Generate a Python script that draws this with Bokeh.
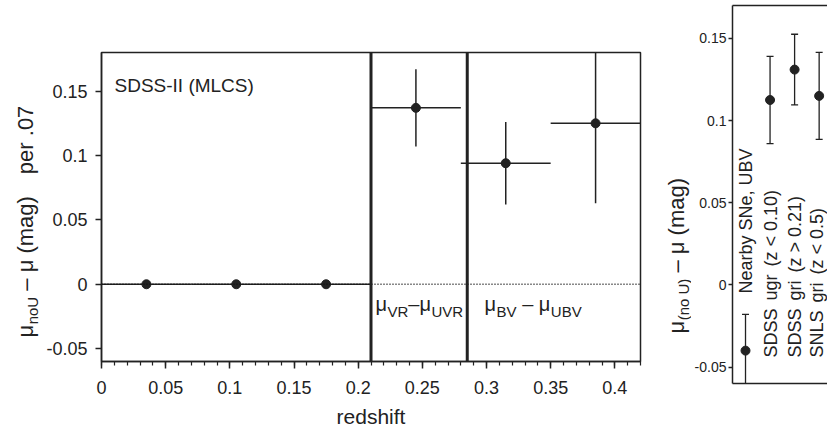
import math
from bokeh.plotting import figure
from bokeh.models import ColumnDataSource, FixedTicker, Span, LinearAxis, Range1d
from bokeh.layouts import row
from bokeh.embed import file_html
from bokeh.resources import INLINE
from bokeh.core.properties import value

# ---------------- data ----------------
# left panel: SDSS-II (MLCS) redshift bins
z_bin = [0.035, 0.105, 0.175, 0.245, 0.315, 0.385]
z_halfwidth = [0.035, 0.035, 0.035, 0.035, 0.035, 0.035]
dmu_left = [0.0, 0.0, 0.0, 0.137, 0.094, 0.125]
dmu_left_err = [0.0, 0.0, 0.0, 0.030, 0.032, 0.062]
bin_boundaries = [0.21, 0.285]
x_ticks = [0.0, 0.05, 0.1, 0.15, 0.2, 0.25, 0.3, 0.35, 0.4]
x_tick_labels = ["0", "0.05", "0.1", "0.15", "0.2", "0.25", "0.3", "0.35", "0.4"]
y_ticks = [-0.05, 0.0, 0.05, 0.1, 0.15]
y_tick_labels = ["-0.05", "0", "0.05", "0.1", "0.15"]

# right panel: samples
SP = "\u2006 "  # slightly wider gap between words
samples = ["Nearby SNe, UBV",
           f"SDSS{SP}ugr{SP}(z < 0.10)",
           f"SDSS{SP}gri{SP}(z > 0.21)",
           f"SNLS{SP}gri{SP}(z < 0.5)"]
sample_x = [1, 2, 3, 4]
dmu_right = [-0.040, 0.1125, 0.131, 0.115]
dmu_right_err = [0.022, 0.0265, 0.0215, 0.0265]

# ---------------- style ----------------
FONT = "Liberation Sans"
INK = "#222222"
MU = "\u03bc"
MID = 0.35  # distance (em) from alphabetic baseline up to the "middle" anchor

# Arial / Liberation Sans advance widths (per 1000 em)
W = {" ": 278, "(": 333, ")": 333, "\u2013": 556, MU: 576, "n": 556, "o": 556,
     "U": 722, "V": 667, "R": 722, "B": 667, "m": 833, "a": 556, "g": 556, "p": 556,
     "e": 556, "r": 333, ".": 278, "0": 556, "7": 556}


def tw(s, size):
    return sum(W.get(c, 556) for c in s) / 1000.0 * size


def compose(fig, x0, y0, parts, kx, ky, vertical=False):
    """Text pieces on a common baseline (x0, y0 in data units).
    parts: (text, size, subscript shift px, gap px before); kx, ky = px per data unit"""
    adv = 0.0
    for text, size, shift, gap in parts:
        adv += gap
        mid = MID * size
        if vertical:
            x = x0 + (shift - mid) / kx
            y = y0 + adv / ky
            ang = math.pi / 2
        else:
            x = x0 + adv / kx
            y = y0 - (shift - mid) / ky
            ang = 0
        fig.text(x=[x], y=[y], text=[text], angle=ang, text_align="left",
                 text_baseline="middle", text_font=value(FONT),
                 text_font_size=value(f"{size}px"), text_color=INK)
        adv += tw(text, size)


def strip(width):
    """blank figure whose data units are screen pixels (y downwards), for axis titles"""
    s = figure(width=width, height=430, x_range=Range1d(0, width), y_range=Range1d(430, 0),
               output_backend="svg", toolbar_location=None, x_axis_type=None, y_axis_type=None,
               min_border_left=0, min_border_right=0, min_border_top=0, min_border_bottom=0,
               frame_align=False)
    s.grid.visible = False
    s.outline_line_color = None
    s.background_fill_color = "white"
    s.border_fill_color = "white"
    return s


def style_yaxis(ax, size, tick_out, standoff):
    ax.ticker = FixedTicker(ticks=y_ticks, minor_ticks=[])
    ax.major_label_overrides = dict(zip(y_ticks, y_tick_labels))
    ax.major_label_text_font = FONT
    ax.major_label_text_font_size = size
    ax.major_label_text_color = INK
    ax.major_tick_out = tick_out
    ax.major_tick_in = 0
    ax.major_tick_line_width = 1.3
    ax.major_tick_line_color = INK
    ax.axis_line_color = INK
    ax.axis_line_width = 1.5
    ax.major_label_standoff = standoff


# ---------------- left axis title strip ----------------
s1 = strip(43)
compose(s1, 32.5, 337,
        [(MU, 22, 0, 0), ("noU", 15, 5, 0.5), ("\u2013 " + MU + " (mag)", 22, 0, 6.1),
         ("per .07", 22, 0, 22)],
        1, -1, vertical=True)

# ---------------- left panel ----------------
XL = (0.0, 0.42)
YL = (-0.06, 0.18)
p1 = figure(width=622, height=430, x_range=Range1d(*XL), y_range=Range1d(*YL),
            output_backend="svg", toolbar_location=None, frame_align=False,
            min_border_left=58, min_border_right=25, min_border_top=52, min_border_bottom=68)
p1.grid.visible = False
p1.outline_line_color = INK
p1.outline_line_width = 1.5
p1.background_fill_color = "white"
p1.border_fill_color = "white"

kx1 = 539 / (XL[1] - XL[0])
ky1 = 310 / (YL[1] - YL[0])

xa = p1.xaxis[0]
xa.ticker = FixedTicker(ticks=x_ticks, minor_ticks=[i / 100 for i in range(0, 43)])
xa.major_label_overrides = dict(zip(x_ticks, x_tick_labels))
xa.major_label_text_font = FONT
xa.major_label_text_font_size = "18px"
xa.major_label_text_color = INK
xa.major_tick_out = 7
xa.major_tick_in = 0
xa.minor_tick_out = 4
xa.minor_tick_in = 0
xa.major_tick_line_width = 1.5
xa.minor_tick_line_width = 1.2
xa.major_tick_line_color = INK
xa.minor_tick_line_color = INK
xa.axis_line_color = INK
xa.axis_line_width = 1.5
xa.major_label_standoff = 12
xa.axis_label = "redshift"
xa.axis_label_text_font = FONT
xa.axis_label_text_font_size = "21px"
xa.axis_label_text_font_style = "normal"
xa.axis_label_text_color = INK
xa.axis_label_standoff = 8

style_yaxis(p1.yaxis[0], "18px", 6, 8)

src1 = ColumnDataSource(dict(
    z=z_bin,
    z0=[z - h for z, h in zip(z_bin, z_halfwidth)],
    z1=[z + h for z, h in zip(z_bin, z_halfwidth)],
    y=dmu_left,
    y0=[y - e for y, e in zip(dmu_left, dmu_left_err)],
    y1=[y + e for y, e in zip(dmu_left, dmu_left_err)],
))

p1.add_layout(Span(location=0, dimension="width", line_color="#111111", line_width=1.3, line_dash="1 2"))
p1.segment(x0="z0", y0="y", x1="z1", y1="y", source=src1, line_color=INK, line_width=1.5)
p1.segment(x0="z", y0="y0", x1="z", y1="y1", source=src1, line_color=INK, line_width=1.5)
p1.scatter("z", "y", source=src1, size=9, color=INK)
for b in bin_boundaries:
    p1.add_layout(Span(location=b, dimension="height", line_color=INK, line_width=3))

compose(p1, (114 - 101) / kx1, YL[1] - (92 - 52) / ky1, [("SDSS-II (MLCS)", 19, 0, 0)], kx1, ky1)

compose(p1, (375 - 101) / kx1, YL[1] - (311 - 52) / ky1,
        [(MU, 20, 0, 0), ("VR", 15, 6, 0.5), ("\u2013", 20, 0, 0), (MU, 20, 0, 0), ("UVR", 15, 6, 0.5)],
        kx1, ky1)
compose(p1, (484 - 101) / kx1, YL[1] - (311 - 52) / ky1,
        [(MU, 20, 0, 0), ("BV", 15, 6, 0.5), ("\u2013", 20, 0, 5.6), (MU, 20, 0, 5.6), ("UBV", 15, 6, 0.5)],
        kx1, ky1)

# ---------------- right axis title strip ----------------
s2 = strip(26)
compose(s2, 19, 333,
        [(MU, 22, 0, 0), ("(no U)", 15, 4, 0.5), ("\u2013 " + MU + " (mag)", 22, 0, 6.1)],
        1, -1, vertical=True)

# ---------------- right panel ----------------
XR = (0.47, 4.34)
YR = (-0.06, 0.17)
p2 = figure(width=136, height=430, x_range=Range1d(*XR), y_range=Range1d(*YR),
            output_backend="svg", toolbar_location=None, frame_align=False,
            min_border_left=38, min_border_right=0, min_border_top=5, min_border_bottom=47)
p2.grid.visible = False
p2.outline_line_color = None
p2.background_fill_color = "white"
p2.border_fill_color = "white"

kx2 = 98 / (XR[1] - XR[0])
ky2 = 378 / (YR[1] - YR[0])

bx = p2.xaxis[0]
bx.ticker = FixedTicker(ticks=[], minor_ticks=[])
bx.axis_line_color = INK
bx.axis_line_width = 1.5
tx = LinearAxis(ticker=FixedTicker(ticks=[], minor_ticks=[]), axis_line_color=INK, axis_line_width=1.5)
p2.add_layout(tx, "above")

style_yaxis(p2.yaxis[0], "14px", 4, 2)

# label column nudges (px) so the last label stays inside the window
label_nudge = [0.5, 0.5, 0.5, -2.5]
src2 = ColumnDataSource(dict(
    x=sample_x,
    y=dmu_right,
    y0=[y - e for y, e in zip(dmu_right, dmu_right_err)],
    y1=[y + e for y, e in zip(dmu_right, dmu_right_err)],
    name=samples,
    lx=[x + n / kx2 for x, n in zip(sample_x, label_nudge)],
    ly=[YR[1] - ((293 if i == 0 else 357) - 5) / ky2 for i in range(len(samples))],
))
p2.segment(x0="x", y0="y0", x1="x", y1="y1", source=src2, line_color=INK, line_width=1.3)
p2.scatter("x", "y0", source=src2, marker="dash", size=7, line_color=INK, line_width=1.3)
p2.scatter("x", "y1", source=src2, marker="dash", size=7, line_color=INK, line_width=1.3)
p2.scatter("x", "y", source=src2, size=9, color=INK)
p2.text(x="lx", y="ly", text="name", source=src2, angle=math.pi / 2, text_align="left",
        text_baseline="middle", text_font=value(FONT), text_font_size=value("18px"), text_color=INK)

layout = row(s1, p1, s2, p2)
open("out.html", "w").write(file_html(layout, INLINE))
